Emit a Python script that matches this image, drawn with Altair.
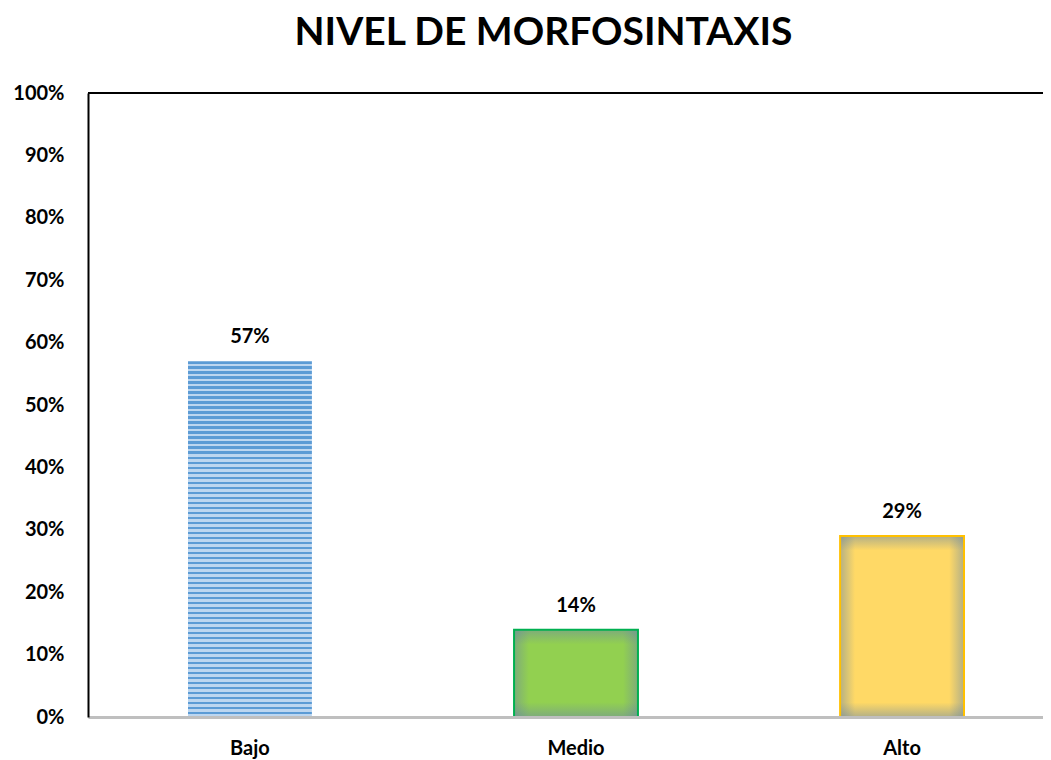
import altair as alt
import pandas as pd

categories = ["Bajo", "Medio", "Alto"]
values = [0.57, 0.14, 0.29]
value_labels = ["57%", "14%", "29%"]
y_ticks = [0.0, 0.1, 0.2, 0.3, 0.4, 0.5, 0.6, 0.7, 0.8, 0.9, 1.0]
title_text = "NIVEL DE MORFOSINTAXIS"

df = pd.DataFrame({"cat": categories, "val": values, "lbl": value_labels})

FONT = "Lato"

# striped fill for the first bar (horizontal lines)
n_stripes = 71
stripe_stops = []
for i in range(n_stripes):
    a = i / n_stripes
    m = (i + 0.5) / n_stripes
    b = (i + 1) / n_stripes
    stripe_stops += [
        {"offset": a, "color": "#5b9bd5"},
        {"offset": m, "color": "#5b9bd5"},
        {"offset": m, "color": "#bcd6f0"},
        {"offset": b, "color": "#bcd6f0"},
    ]
stripe_fill = {"gradient": "linear", "x1": 0, "y1": 0, "x2": 0, "y2": 1, "stops": stripe_stops}

glow = "rgba(105,135,165,0.5)"
clear = "rgba(105,135,165,0)"


def hglow(f):
    return {"gradient": "linear", "x1": 0, "y1": 0, "x2": 1, "y2": 0,
            "stops": [{"offset": 0, "color": glow}, {"offset": f, "color": clear},
                      {"offset": 1 - f, "color": clear}, {"offset": 1, "color": glow}]}


def vglow(f):
    return {"gradient": "linear", "x1": 0, "y1": 0, "x2": 0, "y2": 1,
            "stops": [{"offset": 0, "color": glow}, {"offset": f, "color": clear},
                      {"offset": 1 - f, "color": clear}, {"offset": 1, "color": glow}]}


x_enc = alt.X(
    "cat:N", sort=categories,
    scale=alt.Scale(paddingInner=0.62, paddingOuter=0.2745, align=0.5587),
    axis=alt.Axis(title=None, labelAngle=0, ticks=False, domain=True,
                  domainColor="#bfbfbf", domainWidth=3, labelFont=FONT,
                  labelFontSize=20, labelFontWeight="bold", labelColor="black",
                  labelPadding=21, zindex=1),
)
y_enc = alt.Y(
    "val:Q", scale=alt.Scale(domain=[0, 1], nice=False),
    axis=alt.Axis(title=None, values=y_ticks, format=".0%", grid=False, ticks=False,
                  domain=True, domainColor="black", domainWidth=2, labelFont=FONT,
                  labelFontSize=20, labelFontWeight="bold", labelColor="black",
                  labelPadding=24, zindex=1),
)

base = alt.Chart(df).encode(x=x_enc, y=y_enc)

bajo = base.transform_filter(alt.datum.cat == "Bajo")
medio = base.transform_filter(alt.datum.cat == "Medio")
alto = base.transform_filter(alt.datum.cat == "Alto")

layers = [
    bajo.mark_bar(fill=stripe_fill),
    medio.mark_bar(fill="#92d050"),
    medio.mark_bar(fill=hglow(0.12)),
    medio.mark_bar(fill=vglow(0.17)),
    medio.mark_bar(fillOpacity=0, stroke="#00b050", strokeWidth=2),
    alto.mark_bar(fill="#ffd966"),
    alto.mark_bar(fill=hglow(0.12)),
    alto.mark_bar(fill=vglow(0.08)),
    alto.mark_bar(fillOpacity=0, stroke="#ffc000", strokeWidth=2),
    base.mark_text(baseline="alphabetic", dy=-18, font=FONT, fontSize=20,
                   fontWeight="bold", color="black").encode(text="lbl:N"),
    alt.Chart(pd.DataFrame({"v": [1.0]})).mark_rule(color="black", strokeWidth=2)
    .encode(y=alt.Y("v:Q")),
]

chart = alt.layer(*layers).properties(
    width=955,
    height=624,
    autosize=alt.AutoSizeParams(type="none"),
    padding={"left": 80, "top": 85, "right": 0, "bottom": 45},
    title=alt.TitleParams(text=title_text, font=FONT, fontSize=39, fontWeight="bold",
                          color="black", anchor="middle", dx=-22, dy=29, offset=28,
                          baseline="alphabetic"),
).configure_view(stroke="transparent")

chart.save("out.html", embed_options={"renderer": "svg", "actions": False})
